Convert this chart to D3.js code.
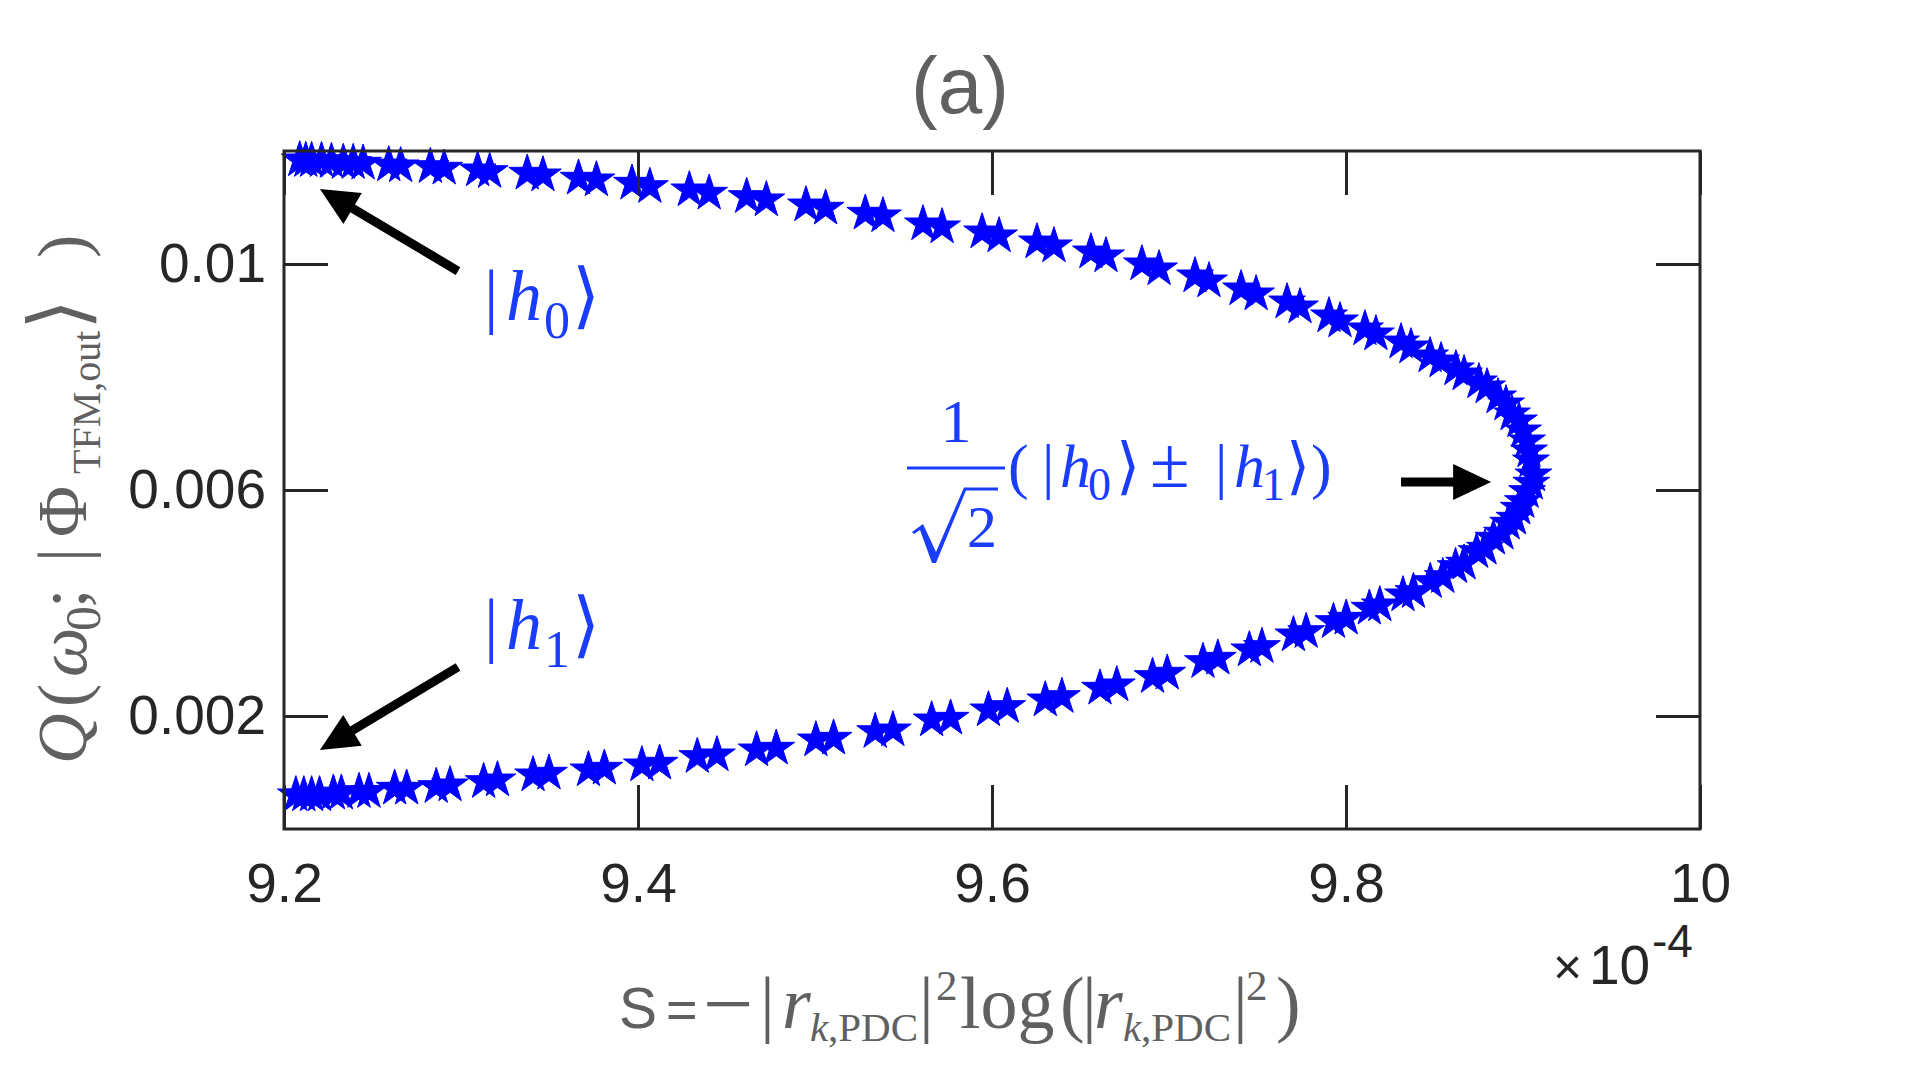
<!DOCTYPE html>
<html><head><meta charset="utf-8">
<script src="https://cdn.jsdelivr.net/npm/d3@7"></script>
<style>html,body{margin:0;padding:0;background:#fff;} svg{display:block}</style>
</head><body>
<svg id="chart" width="1920" height="1080"></svg>
<script>
// ---- data (S in units of 1e-4) ----
const sTop = [9.2089,9.2123,9.2156,9.2212,9.2268,9.2335,9.2391,9.2447,9.2592,9.2659,9.2827,9.2905,9.3094,9.3162,9.3374,9.3463,9.3664,9.3765,9.3966,9.4067,9.4290,9.4402,9.4614,9.4725,9.4949,9.5060,9.5284,9.5384,9.5610,9.5718,9.5944,9.6040,9.6254,9.6350,9.6559,9.6644,9.6847,9.6944,9.7147,9.7226,9.7407,9.7492,9.7667,9.7740,9.7904,9.7966,9.8107,9.8169,9.8311,9.8367,9.8475,9.8537,9.8621,9.8667,9.8751,9.8797,9.8859,9.8904,9.8938,9.8977,9.9000,9.9023,9.9034,9.9045];
const qTop = [0.011841,0.011828,0.011828,0.011828,0.011811,0.011793,0.011793,0.011782,0.011752,0.011735,0.011722,0.011694,0.011664,0.011634,0.011605,0.011575,0.011517,0.011487,0.011428,0.011368,0.011310,0.011251,0.011191,0.011133,0.011044,0.010986,0.010897,0.010850,0.010708,0.010655,0.010566,0.010496,0.010389,0.010319,0.010212,0.010142,0.010000,0.009912,0.009788,0.009699,0.009558,0.009469,0.009327,0.009239,0.009080,0.008991,0.008850,0.008761,0.008619,0.008531,0.008372,0.008283,0.008142,0.008053,0.007912,0.007823,0.007646,0.007522,0.007345,0.007221,0.007044,0.006867,0.006690,0.006513];
const sBottom = [9.9059,9.9047,9.9023,9.8999,9.8976,9.8952,9.8916,9.8881,9.8833,9.8785,9.8738,9.8667,9.8619,9.8547,9.8476,9.8381,9.8322,9.8191,9.8132,9.8001,9.7929,9.7775,9.7703,9.7525,9.7454,9.7276,9.7192,9.6990,9.6907,9.6705,9.6610,9.6395,9.6301,9.6086,9.5980,9.5766,9.5659,9.5440,9.5340,9.5105,9.5005,9.4781,9.4670,9.4446,9.4335,9.4122,9.4022,9.3810,9.3720,9.3497,9.3407,9.3206,9.3128,9.2938,9.2860,9.2693,9.2625,9.2480,9.2424,9.2324,9.2279,9.2201,9.2156,9.2112,9.2067];
const qBottom = [0.006265,0.006119,0.005970,0.005793,0.005676,0.005499,0.005411,0.005234,0.005145,0.004968,0.004908,0.004703,0.004642,0.004465,0.004377,0.004200,0.004142,0.003965,0.003906,0.003729,0.003669,0.003492,0.003434,0.003227,0.003168,0.003021,0.002961,0.002756,0.002696,0.002549,0.002490,0.002342,0.002283,0.002165,0.002106,0.001959,0.001929,0.001752,0.001722,0.001605,0.001575,0.001428,0.001398,0.001310,0.001280,0.001163,0.001133,0.001074,0.001044,0.000986,0.000956,0.000867,0.000837,0.000779,0.000749,0.000720,0.000720,0.000660,0.000660,0.000632,0.000632,0.000602,0.000602,0.000602,0.000602];

const xTicks = [9.2, 9.4, 9.6, 9.8, 10];
const xTickLabels = ["9.2", "9.4", "9.6", "9.8", "10"];
const yTicks = [0.002, 0.006, 0.01];
const yTickLabels = ["0.002", "0.006", "0.01"];

// arrows: [tailS, tailQ, tipS, tipQ]
const arrowH0 = [9.2983, 0.009876, 9.2203, 0.011327];
const arrowH1 = [9.2983, 0.002867, 9.2203, 0.001398];
const arrowMid = [9.8311, 0.006142, 9.8820, 0.006142];

// ---- layout ----
const W = 1920, H = 1080;
const P = {left: 284, right: 1700, top: 151, bottom: 829};
const x = d3.scaleLinear().domain([9.2, 10]).range([P.left, P.right]);
const y = d3.scaleLinear().domain([0, 0.012]).range([P.bottom, P.top]);
const svg = d3.select('#chart');
svg.append('rect').attr('width', W).attr('height', H).attr('fill', '#fff');

const AX = '#262626', GRAY = '#606060', BLUE_T = '#1a3cff', BLUE_M = '#0000ff';
const SANS = "'Liberation Sans', Arial, Helvetica, sans-serif";
const SERIF = "'Liberation Serif', 'DejaVu Serif', 'Times New Roman', serif";
const tickLen = 44;

// markers
const pts = sTop.map((s, i) => ({s, q: qTop[i]})).concat(sBottom.map((s, i) => ({s, q: qBottom[i]})));
svg.append('g').selectAll('path').data(pts).join('path')
  .attr('transform', d => `translate(${x(d.s)},${y(d.q)})`)
  .attr('d', d3.symbol(d3.symbolStar, 420))
  .attr('fill', BLUE_M).attr('stroke', BLUE_M).attr('stroke-width', 1);

function styleAxis(g) {
  g.select('.domain').remove();
  g.selectAll('.tick line').attr('stroke', AX).attr('stroke-width', 3);
  g.selectAll('.tick text').attr('fill', AX).style('font-family', SANS).style('font-size', '55px');
}
svg.append('g').attr('transform', `translate(0,${P.bottom})`)
  .call(d3.axisBottom(x).tickValues(xTicks).tickFormat((d, i) => xTickLabels[i]).tickSizeInner(-tickLen).tickSizeOuter(0).tickPadding(34))
  .call(styleAxis);
svg.append('g').attr('transform', `translate(0,${P.top})`)
  .call(d3.axisTop(x).tickValues(xTicks).tickFormat('').tickSizeInner(-tickLen).tickSizeOuter(0))
  .call(styleAxis);
svg.append('g').attr('transform', `translate(${P.left},0)`)
  .call(d3.axisLeft(y).tickValues(yTicks).tickFormat((d, i) => yTickLabels[i]).tickSizeInner(-tickLen).tickSizeOuter(0).tickPadding(18))
  .call(styleAxis);
svg.append('g').attr('transform', `translate(${P.right},0)`)
  .call(d3.axisRight(y).tickValues(yTicks).tickFormat('').tickSizeInner(-tickLen).tickSizeOuter(0))
  .call(styleAxis);
svg.append('rect').attr('x', P.left).attr('y', P.top).attr('width', P.right - P.left).attr('height', P.bottom - P.top)
  .attr('fill', 'none').attr('stroke', AX).attr('stroke-width', 3);

// exponent
const ex = svg.append('text').attr('fill', AX).style('font-family', SANS);
ex.append('tspan').attr('x', 1553).attr('y', 984).style('font-size', '50px').text('×');
ex.append('tspan').attr('x', 1589).attr('y', 984).style('font-size', '55px').text('10');
ex.append('tspan').attr('x', 1652).attr('y', 957).style('font-size', '46px').text('-4');

// title
svg.append('text').attr('x', 960).attr('y', 113).attr('text-anchor', 'middle').attr('fill', GRAY)
  .style('font-family', SANS).style('font-size', '80px').text('(a)');

// arrows
function arrow(a) {
  const x1 = x(a[0]), y1 = y(a[1]), x2 = x(a[2]), y2 = y(a[3]);
  const dx = x2 - x1, dy = y2 - y1, L = Math.hypot(dx, dy), ux = dx / L, uy = dy / L;
  const hl = 38, hw = 18, bx = x2 - ux * hl, by = y2 - uy * hl;
  svg.append('line').attr('x1', x1).attr('y1', y1).attr('x2', bx + ux * 3).attr('y2', by + uy * 3)
    .attr('stroke', '#000').attr('stroke-width', 9);
  svg.append('path').attr('d', `M${x2},${y2}L${bx - uy * hw},${by + ux * hw}L${bx + uy * hw},${by - ux * hw}Z`).attr('fill', '#000');
}
[arrowH0, arrowH1, arrowMid].forEach(arrow);

// helper: text made of positioned pieces [x, text, size, dy, italic, family]
function pieces(parent, list, base) {
  const t = parent.append('text').style('font-family', SERIF);
  list.forEach(p => {
    t.append('tspan').attr('x', p[0]).attr('y', base + (p[3] || 0))
      .style('font-size', p[2] + 'px').style('font-style', p[4] ? 'italic' : 'normal')
      .style('font-family', p[5] || SERIF).text(p[1]);
  });
  return t;
}
// |h0>, |h1>
function ketLabel(x0, base, sub) {
  pieces(svg, [[x0, '|', 72], [x0 + 22, 'h', 72, 0, true], [x0 + 60, sub, 52, 18], [x0 + 88, '⟩', 72]], base).attr('fill', BLUE_T);
}
ketLabel(484, 320, '0');
ketLabel(484, 649, '1');

// formula 1/sqrt(2)(|h0> ± |h1>)
const fg = svg.append('g').attr('fill', BLUE_T);
fg.append('text').attr('x', 956).attr('y', 442).attr('text-anchor', 'middle').style('font-family', SERIF).style('font-size', '62px').text('1');
fg.append('line').attr('x1', 907).attr('x2', 1005).attr('y1', 468).attr('y2', 468).attr('stroke', BLUE_T).attr('stroke-width', 3);
// radical sign
fg.append('path').attr('d', 'M912,532 L923,524 L936,552 L964,487.5 L998,487.5 L998,490.5 L966,490.5 L936,563 L932,563 L920,530 L914,534 Z')
  .attr('fill', BLUE_T);
fg.append('text').attr('x', 967).attr('y', 547).style('font-family', SERIF).style('font-size', '60px').text('2');
pieces(fg, [[1008, '(', 62], [1042, '|', 62], [1060, 'h', 62, 0, true], [1088, '0', 46, 13], [1116, '⟩', 62],
  [1150, '±', 72], [1215, '|', 62], [1234, 'h', 62, 0, true], [1262, '1', 46, 13], [1286, '⟩', 62], [1311, ')', 62]], 487);

// x label
const xl = pieces(svg, [
  [619, 'S', 57, 0, false, SANS], [666, '=', 54, 0, false, SANS], [703, '−', 90, 6], [760, '|', 74],
  [782, 'r', 74, 0, true], [810, 'k', 41, 13, true], [828, ',PDC', 41, 13], [919, '|', 74], [936, '2', 43, -28],
  [960, 'log', 74], [1060, '(', 74], [1082, '|', 74], [1094, 'r', 74, 0, true], [1123, 'k', 41, 13, true],
  [1141, ',PDC', 41, 13], [1233, '|', 74], [1246, '2', 43, -28], [1276, ')', 74]], 1028);
xl.attr('fill', GRAY);

// y label (rotated)
const yg = svg.append('g').attr('transform', 'translate(86,490) rotate(-90)');
pieces(yg, [[-274, 'Q', 70, 0, true], [-217, '(', 70], [-187, 'ω', 70, 0, true], [-141, '0', 50, 14],
  [-118, ';', 70], [-72, '|', 70], [-47, 'Φ', 70], [16, 'TFM,out', 40, 14], [160, '⟩', 80], [232, ')', 70]], 0)
  .attr('fill', GRAY);
</script>
</body></html>
